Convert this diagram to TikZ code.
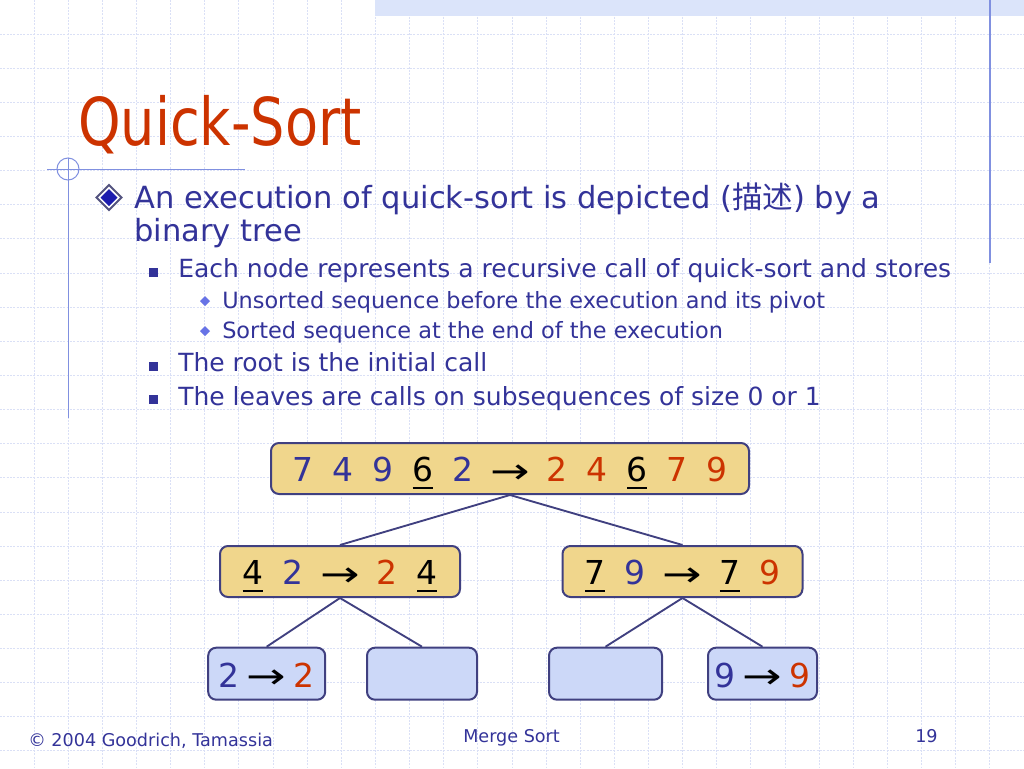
\documentclass[tikz,border=0pt]{standalone}
\usepackage{fontspec}
\setmainfont{DejaVu Sans}
\newfontfamily\titlefont{DejaVu Sans}[FakeStretch=0.82]
\newfontfamily\cjk{Noto Sans CJK SC}
\definecolor{qnavy}{RGB}{51,51,153}
\definecolor{qred}{RGB}{204,51,0}
\definecolor{qgold}{RGB}{240,214,140}
\definecolor{qleaf}{RGB}{204,216,248}
\definecolor{qedge}{RGB}{64,64,128}
\definecolor{qgrid}{RGB}{218,224,246}
\definecolor{qdeco}{RGB}{128,144,224}

% digit boxes for the tree labels
\newlength{\dw}
\setlength{\dw}{30pt}
\newcommand{\qu}[1]{\makebox[\dw]{\textcolor{qnavy}{#1}}}
\newcommand{\qs}[1]{\makebox[\dw]{\textcolor{qred}{#1}}}
\newcommand{\qp}[1]{\makebox[\dw]{\ooalign{\hfil#1\hfil\cr\hfil\rule[-5pt]{15pt}{1.4pt}\hfil\cr}}}
\newcommand{\qa}{\makebox[41pt]{\fontsize{29.5}{30}\selectfont\raisebox{-1pt}{\scalebox{1.2}[0.9]{→}}}}

\begin{document}
\begin{tikzpicture}[
    x = 0.75pt, y = -0.75pt,
    grid/.style = {qgrid, line width = 0.75pt, dash pattern = on 1.5pt off 1pt},
    deco/.style = {qdeco, line width = 0.75pt},
    txt/.style = {anchor = base west, inner sep = 0pt, text = qnavy},
    lvlone/.style = {txt, font = \fontsize{22.9}{26}\selectfont},
    lvltwo/.style = {txt, font = \fontsize{18.75}{22}\selectfont},
    lvlthree/.style = {txt, font = \fontsize{16.8}{18}\selectfont},
    foot/.style = {txt, font = \fontsize{13.2}{16}\selectfont},
    call/.style = {
      rectangle, draw = qedge, line width = 1.5pt, fill = qgold,
      rounded corners = 6pt, inner sep = 0pt,
      minimum height = 38.25pt, minimum width = 180pt,
      font = \fontsize{24.7}{30}\selectfont,
      text height = 20pt, text depth = 0pt,
    },
    leaf/.style = {call, fill = qleaf, minimum height = 39pt},
    edge/.style = {qedge, line width = 1.4pt},
  ]

  \useasboundingbox (0,0) rectangle (1024,768);
  \fill[white] (0,0) rectangle (1024,768);

  % background grid
  \foreach \i in {1,...,29}
    \draw[grid] (\i*34.133,0) -- (\i*34.133,768);
  \foreach \j in {1,...,22}
    \draw[grid] (0,\j*34.133) -- (1024,\j*34.133);
  \fill[qleaf!70!white] (375,0) rectangle (1024,16);

  \draw[qdeco, line width = 1.1pt] (990,0) -- (990,263);
  \draw[deco] (47,169) -- (245,169);
  \draw[deco] (68,158) -- (68,418);
  \draw[deco] (68,169) circle[radius = 11];

  % title
  \node[anchor = base west, inner sep = 0pt, text = qred,
    font = \titlefont\fontsize{49.5}{56}\selectfont] (title) at (78,145) {Quick-Sort};

  % bullets
  \filldraw[fill = white, draw = qedge!70!gray, line width = 1.4pt]
    (109,185) -- (121.5,197.5) -- (109,210) -- (96.5,197.5) -- cycle;
  \fill[qnavy!60!blue!90!black] (109,189) -- (117.5,197.5) -- (109,206) -- (100.5,197.5) -- cycle;
  \node[lvlone] (l1a) at (134,208.3) {An execution of quick-sort is depicted ({\cjk 描述}) by a};
  \node[lvlone] (l1b) at (134,241.7) {binary tree};

  \fill[qnavy] (148.8,268) rectangle ++(9,9);
  \node[lvltwo] (l2a) at (178,277.7) {Each node represents a recursive call of quick-sort and stores};
  \fill[qdeco!80!blue] (205,296) -- (210,301) -- (205,306) -- (200,301) -- cycle;
  \node[lvlthree] (l3a) at (222,308.3) {Unsorted sequence before the execution and its pivot};
  \fill[qdeco!80!blue] (205,326) -- (210,331) -- (205,336) -- (200,331) -- cycle;
  \node[lvlthree] (l3b) at (222,338.3) {Sorted sequence at the end of the execution};
  \fill[qnavy] (148.8,362) rectangle ++(9,9);
  \node[lvltwo] (l2b) at (178,371.7) {The root is the initial call};
  \fill[qnavy] (148.8,395.3) rectangle ++(9,9);
  \node[lvltwo] (l2c) at (178,405) {The leaves are calls on subsequences of size 0 or 1};

  % the tree
  \node[call, minimum width = 358.5pt] (root) at (510,468.5)
    {\qu{7}\qu{4}\qu{9}\qp{6}\qu{2}\qa\qs{2}\qs{4}\qp{6}\qs{7}\qs{9}};
  \node[call] (ml) at (340,571.5) {\qp{4}\qu{2}\qa\qs{2}\qp{4}};
  \node[call] (mr) at (682.5,571.5) {\qp{7}\qu{9}\qa\qp{7}\qs{9}};

  \node[leaf, minimum width = 87.75pt] (la) at (266.7,673.7)
    {\setlength{\dw}{15pt}\qu{2}\qa\qs{2}};
  \node[leaf, minimum width = 82.5pt] (lb) at (422,673.7) {};
  \node[leaf, minimum width = 84.75pt] (lc) at (605.5,673.7) {};
  \node[leaf, minimum width = 81.75pt] (ld) at (762.5,673.7)
    {\setlength{\dw}{15pt}\qu{9}\qa\qs{9}};

  \draw[edge] (root.south) to (ml.north);
  \draw[edge] (root.south) to (mr.north);
  \draw[edge] (ml.south) to (la.north);
  \draw[edge] (ml.south) to (lb.north);
  \draw[edge] (mr.south) to (lc.north);
  \draw[edge] (mr.south) to (ld.north);

  % footer
  \node[foot] (copy) at (28,746) {\textcopyright{} 2004 Goodrich, Tamassia};
  \node[foot] (topic) at (463,742.5) {Merge Sort};
  \node[foot] (page) at (915,742.5) {19};
\end{tikzpicture}
\end{document}
